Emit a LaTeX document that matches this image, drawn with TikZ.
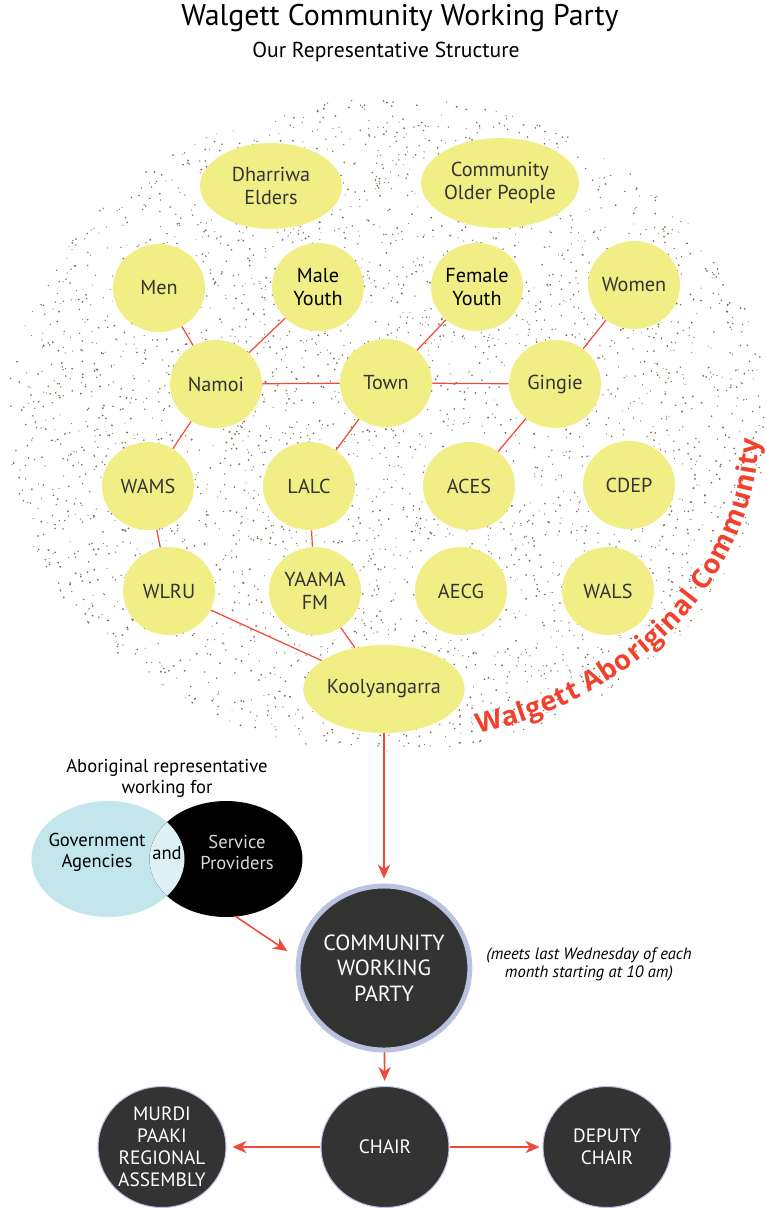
\documentclass[tikz,border=0pt]{standalone}
\usepackage{fontspec}
\setmainfont{PT Sans}
\newfontfamily\arcfont{Open Sans}
\usetikzlibrary{shapes.geometric,arrows.meta,decorations.text}

\definecolor{nodeyellow}{HTML}{F1EE86}
\definecolor{linkred}{HTML}{F0493A}
\definecolor{arcred}{HTML}{F2412B}
\definecolor{darkfill}{HTML}{333333}
\definecolor{ringblue}{HTML}{B9C2DE}
\definecolor{venblue}{HTML}{C2E6EC}
\definecolor{venlight}{HTML}{DDF1F4}
\definecolor{dotbrown}{HTML}{7A6E50}
\definecolor{textgray}{HTML}{333333}
\definecolor{provgray}{HTML}{D8D8D8}

\begin{document}
\begin{tikzpicture}[x=0.02cm,y=0.02cm,
    grp/.style={ellipse,fill=nodeyellow,text=textgray,inner sep=0pt,
      minimum width=1.84cm,minimum height=1.76cm,align=center,
      font=\fontsize{11.5}{13}\selectfont},
    bigrp/.style={grp,minimum width=2.84cm,minimum height=1.72cm},
    dark/.style={ellipse,fill=darkfill,draw=ringblue,line width=0.6pt,
      text=white,inner sep=0pt,minimum width=2.56cm,minimum height=2.42cm,
      align=center,font=\fontsize{11}{12.6}\selectfont},
    venn/.style={ellipse,inner sep=0pt,minimum width=3.06cm,minimum height=2.32cm},
    venntext/.style={align=center,font=\fontsize{10.6}{12}\selectfont},
    link/.style={linkred,line width=0.7pt},
    flow/.style={linkred,line width=0.9pt,
      -{Stealth[length=8pt,width=7pt,inset=2.5pt]}}]

    \useasboundingbox (0,0) rectangle (767,-1208);

    \node[anchor=base,font=\fontsize{17}{20}\selectfont] (title) at (400,-25)
      {Walgett Community Working Party};
    \node[anchor=base,font=\fontsize{12.3}{14}\selectfont] (subtitle) at (386,-57)
      {Our Representative Structure};

    % speckled ground
    \pgfmathsetseed{4217}
    \foreach \i in {1,...,3800}{
      \pgfmathsetmacro\a{360*rnd}
      \pgfmathsetmacro\r{sqrt(rnd)}
      \pgfmathsetmacro\s{0.28+0.32*rnd}
      \fill[dotbrown] ({388+382*\r*cos(\a)},{-425+327*\r*sin(\a)}) circle[radius=\s pt];
    }

    \path[decorate,decoration={text effects along path,
        text={Walgett Aboriginal Community},
        text effects/.cd,text along path,fit text to path,
        characters={text=arcred,font=\arcfont\bfseries\fontsize{15.5}{16}\selectfont}}]
      (388,-425) ++(-76:372 and 318) arc[start angle=-76,end angle=-2.5,x radius=372,y radius=318];

    \node[bigrp] (elders) at (271,-186) {Dharriwa\\Elders};
    \node[bigrp,minimum height=1.8cm] (older) at (500,-183) {Community\\Older People};
    \node[grp] (men) at (159,-288) {Men};
    \node[grp,text=black] (myouth) at (318,-287) {Male\\Youth};
    \node[grp,text=black] (fyouth) at (477,-287) {Female\\Youth};
    \node[grp] (women) at (634,-285) {Women};
    \node[grp] (namoi) at (216,-384) {Namoi};
    \node[grp] (town) at (386,-383) {Town};
    \node[grp] (gingie) at (555,-384) {Gingie};
    \node[grp] (wams) at (148,-486) {WAMS};
    \node[grp] (lalc) at (309,-486) {LALC};
    \node[grp] (aces) at (469,-486) {ACES};
    \node[grp] (cdep) at (629,-485) {CDEP};
    \node[grp] (wlru) at (169,-591) {WLRU};
    \node[grp] (yaama) at (315,-591) {YAAMA\\FM};
    \node[grp] (aecg) at (461,-591) {AECG};
    \node[grp] (wals) at (608,-591) {WALS};
    \node[bigrp,minimum width=2.82cm,minimum height=1.76cm] (kool) at (384,-689) {Koolyangarra};

    \draw[link] (men) -- (namoi) (myouth) -- (namoi) (namoi) -- (town)
      (fyouth) -- (town) (town) -- (gingie) (women) -- (gingie)
      (namoi) -- (wams) (town) -- (lalc) (gingie) -- (aces)
      (wams) -- (wlru) (lalc) -- (yaama) (wlru) -- (kool) (yaama) -- (kool);

    \node[venntext] (abrep) at (167,-778.5) {Aboriginal representative\\working for};
    \node[venn,fill=venblue] (gov) at (108,-859) {};
    \node[venn,fill=black] (serv) at (226,-859) {};
    \begin{scope}
      \clip (108,-859) ellipse[x radius=76.5,y radius=58];
      \fill[venlight] (226,-859) ellipse[x radius=76.5,y radius=58];
    \end{scope}
    \node[venntext] (govtext) at (97,-852.5) {Government\\Agencies};
    \node[venntext] (andtext) at (167,-853) {and};
    \node[venntext,text=provgray] (servtext) at (237,-852.5) {Service\\Providers};

    \node[ellipse,fill=darkfill,draw=ringblue,line width=2.8pt,inner sep=0pt,
      minimum width=3.38cm,minimum height=3.28cm,text=white,align=center,
      font=\fontsize{12.5}{14.7}\selectfont] (cwp) at (384,-968) {COMMUNITY\\WORKING\\PARTY};
    \node[align=center,font=\itshape\fontsize{9.4}{10.2}\selectfont] (note) at (589,-964.5)
      {(meets last Wednesday of each\\month starting at 10 am)};

    \node[dark] (chair) at (385,-1147) {CHAIR};
    \node[dark] (murdi) at (162,-1147) {MURDI\\PAAKI\\REGIONAL\\ASSEMBLY};
    \node[dark] (deputy) at (607,-1147) {DEPUTY\\CHAIR};

    \draw[flow,shorten >=0.1cm] (kool) -- (cwp);
    \draw[flow,shorten >=0.22cm] (serv.-80) -- (cwp.173);
    \draw[flow,shorten >=0.1cm] (cwp) -- (chair);
    \draw[flow,shorten >=0.12cm] (chair) -- (murdi);
    \draw[flow,shorten >=0.06cm] (chair) -- (deputy);
  \end{tikzpicture}
\end{document}
